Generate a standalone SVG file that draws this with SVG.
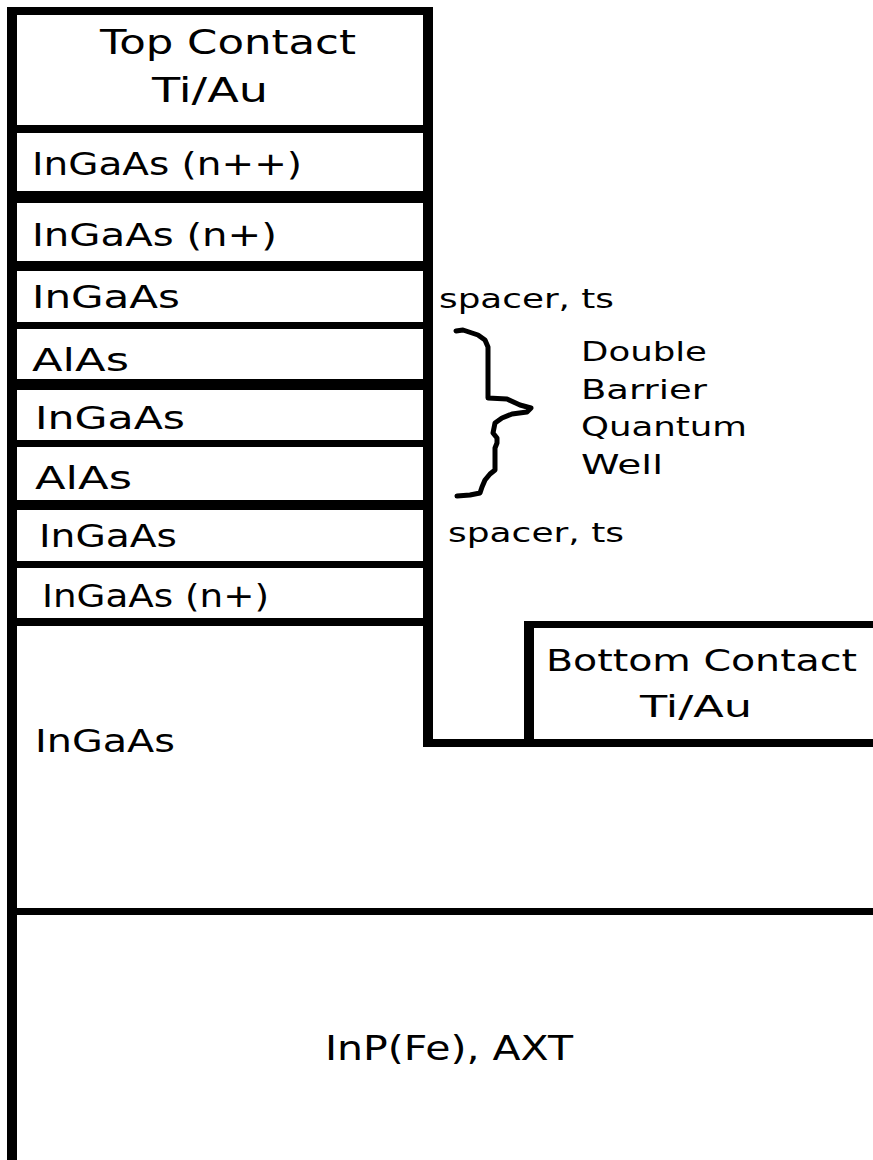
<svg xmlns="http://www.w3.org/2000/svg" width="873" height="1160" viewBox="0 0 873 1160">
  <style>
    .bar { fill: #000; }
    text { font-family: "DejaVu Sans", Verdana, sans-serif; fill: #000; }
    .l { font-size: 32px; }
    .c { font-size: 30px; }
    .s { font-size: 26px; }
    .brace { fill: none; stroke: #000; stroke-width: 5; stroke-linejoin: round; stroke-linecap: round; }
  </style>
  <rect width="873" height="1160" fill="#fff"/>

  <g id="structure">
    <rect class="bar" x="7" y="7" width="10" height="1153"/>
    <rect class="bar" x="7" y="7" width="426" height="8"/>
    <rect class="bar" x="423" y="7" width="10" height="740"/>
    <rect class="bar" x="7" y="125" width="426" height="8"/>
    <rect class="bar" x="7" y="191" width="426" height="12"/>
    <rect class="bar" x="7" y="261" width="426" height="10"/>
    <rect class="bar" x="7" y="322" width="426" height="7"/>
    <rect class="bar" x="7" y="379" width="426" height="11"/>
    <rect class="bar" x="7" y="440" width="426" height="7"/>
    <rect class="bar" x="7" y="500" width="426" height="10"/>
    <rect class="bar" x="7" y="561" width="426" height="7"/>
    <rect class="bar" x="7" y="618" width="426" height="8"/>
    <rect class="bar" x="423" y="739" width="450" height="8"/>
    <rect class="bar" x="524" y="621" width="10" height="126"/>
    <rect class="bar" x="524" y="621" width="349" height="7"/>
    <rect class="bar" x="7" y="908" width="866" height="7"/>
  </g>

  <g id="top-contact">
    <text x="100" y="54" style="font-size:33px" textLength="256" lengthAdjust="spacingAndGlyphs">Top Contact</text>
    <text x="152" y="102" style="font-size:33px" textLength="116" lengthAdjust="spacingAndGlyphs">Ti/Au</text>
  </g>
  <g id="layer-ingaas-npp">
    <text class="l" x="32" y="175" textLength="270" lengthAdjust="spacingAndGlyphs">InGaAs (n++)</text>
  </g>
  <g id="layer-ingaas-np-top">
    <text class="l" x="32" y="246" textLength="245" lengthAdjust="spacingAndGlyphs">InGaAs (n+)</text>
  </g>
  <g id="layer-spacer-top">
    <text class="l" x="32" y="308" textLength="148" lengthAdjust="spacingAndGlyphs">InGaAs</text>
  </g>
  <g id="layer-alas-1">
    <text class="l" x="32" y="371" textLength="97" lengthAdjust="spacingAndGlyphs">AlAs</text>
  </g>
  <g id="layer-well">
    <text class="l" x="35" y="429" textLength="150" lengthAdjust="spacingAndGlyphs">InGaAs</text>
  </g>
  <g id="layer-alas-2">
    <text class="l" x="35" y="489" textLength="97" lengthAdjust="spacingAndGlyphs">AlAs</text>
  </g>
  <g id="layer-spacer-bottom">
    <text class="l" x="39" y="547" textLength="138" lengthAdjust="spacingAndGlyphs">InGaAs</text>
  </g>
  <g id="layer-ingaas-np-bottom">
    <text class="l" x="42" y="607" textLength="227" lengthAdjust="spacingAndGlyphs">InGaAs (n+)</text>
  </g>
  <g id="layer-ingaas-base">
    <text class="l" x="35" y="752" textLength="140" lengthAdjust="spacingAndGlyphs">InGaAs</text>
  </g>
  <g id="substrate">
    <text x="325" y="1060" style="font-size:33px" textLength="248" lengthAdjust="spacingAndGlyphs">InP(Fe), AXT</text>
  </g>
  <g id="bottom-contact">
    <text class="c" x="546" y="671" textLength="311" lengthAdjust="spacingAndGlyphs">Bottom Contact</text>
    <text class="c" x="640" y="717" textLength="112" lengthAdjust="spacingAndGlyphs">Ti/Au</text>
  </g>
  <g id="label-spacer-top">
    <text class="s" x="439" y="308" textLength="175" lengthAdjust="spacingAndGlyphs">spacer, ts</text>
  </g>
  <g id="label-dbqw">
    <text class="s" x="581" y="361" textLength="126" lengthAdjust="spacingAndGlyphs">Double</text>
    <text class="s" x="581" y="399" textLength="126" lengthAdjust="spacingAndGlyphs">Barrier</text>
    <text class="s" x="581" y="436" textLength="166" lengthAdjust="spacingAndGlyphs">Quantum</text>
    <text class="s" x="581" y="474" textLength="82" lengthAdjust="spacingAndGlyphs">Well</text>
  </g>
  <g id="label-spacer-bottom">
    <text class="s" x="448" y="542" textLength="176" lengthAdjust="spacingAndGlyphs">spacer, ts</text>
  </g>

  <g id="connectors">
    <path class="brace" d="M456,331 L463,330 L478,335 L485,340 L488,347 L488,398 L507,399 L520,405 L531,408 L527,412 L512,414 L502,418 L495,423 L493,433 L497,438 L497,443 L495,448 L495,470 L490,474 L485,480 L482,487 L480,493 L470,495 L457,496"/>
  </g>
</svg>
